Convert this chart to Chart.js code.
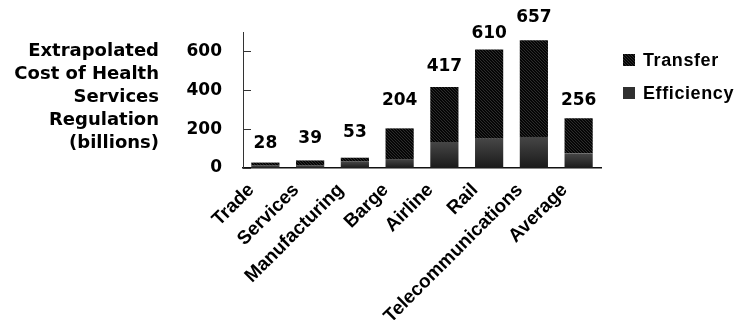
<!DOCTYPE html>
<html>
<head>
<meta charset="utf-8">
<script src="https://cdn.jsdelivr.net/npm/chart.js@4"></script>
<style>
  html, body { margin: 0; padding: 0; background: #fff; }
  #wrap { width: 740px; height: 320px; position: relative; }
</style>
</head>
<body>
<div id="wrap"><canvas id="c" width="740" height="320"></canvas></div>
<script>
// Industries along the x axis
const categories = ['Trade', 'Services', 'Manufacturing', 'Barge', 'Airline', 'Rail', 'Telecommunications', 'Average'];
// Cost components (billions)
const efficiency = [12, 12, 33, 46, 134, 150, 160, 74];
const transfer   = [16, 27, 20, 158, 283, 460, 497, 182];
// Value axis
const yTicks = [0, 200, 400, 600];
const yMax = 700;
const yTitleLines = ['Extrapolated', 'Cost of Health', 'Services', 'Regulation', '(billions)'];
const seriesNames = { transfer: 'Transfer', efficiency: 'Efficiency' };

const NUM_FONT = '"DejaVu Sans", Verdana, sans-serif';
const TXT_FONT = '"Liberation Sans", Arial, sans-serif';

// fine dark diagonal texture for the Transfer segments
function makeHatch() {
  const c = document.createElement('canvas');
  c.width = 3; c.height = 3;
  const g = c.getContext('2d');
  g.fillStyle = '#060606';
  g.fillRect(0, 0, 3, 3);
  g.fillStyle = '#2c2c2c';
  for (let i = 0; i < 3; i++) g.fillRect(i, i, 1, 1);
  return g.createPattern(c, 'repeat');
}
const hatch = makeHatch();

// shaded fill for the Efficiency segments, lighter at the top of each bar
function efficiencyFill(ctx) {
  const chart = ctx.chart;
  if (!chart.chartArea || ctx.type !== 'data') return '#2c2c2c';
  const y = chart.scales.y;
  const top = y.getPixelForValue(efficiency[ctx.dataIndex]);
  const bot = y.getPixelForValue(0);
  if (!isFinite(top) || bot - top < 1) return '#2c2c2c';
  const g = chart.ctx.createLinearGradient(0, top, 0, bot);
  g.addColorStop(0, '#464646');
  g.addColorStop(1, '#1a1a1a');
  return g;
}

// distance between each total label and its bar top
const labelGap = [13, 16, 20, 22, 15, 10, 17, 12];

const overlay = {
  id: 'overlay',
  afterDraw(chart) {
    const ctx = chart.ctx;
    const area = chart.chartArea;
    const x = chart.scales.x, y = chart.scales.y;
    ctx.save();

    // inward tick marks on the value axis
    ctx.strokeStyle = '#333';
    ctx.lineWidth = 1;
    y.ticks.forEach(t => {
      const py = Math.round(y.getPixelForValue(t.value)) + 0.5;
      ctx.beginPath();
      ctx.moveTo(area.left, py);
      ctx.lineTo(area.left + 8, py);
      ctx.stroke();
    });

    // totals above the stacks
    ctx.fillStyle = '#000';
    ctx.font = 'bold 17px ' + NUM_FONT;
    ctx.textAlign = 'center';
    ctx.textBaseline = 'bottom';
    categories.forEach((c, i) => {
      const total = efficiency[i] + transfer[i];
      const px = x.getPixelForValue(i);
      const py = y.getPixelForValue(total);
      ctx.fillText(String(total), px, py - labelGap[i] + 3);
    });

    // value axis title, right aligned, stacked lines
    ctx.font = 'bold 18px ' + NUM_FONT;
    ctx.textAlign = 'right';
    ctx.textBaseline = 'middle';
    yTitleLines.forEach((line, i) => {
      ctx.fillText(line, 159, 51 + i * 23);
    });

    // legend
    const items = [
      { label: seriesNames.transfer, fill: hatch },
      { label: seriesNames.efficiency, fill: '#303030' }
    ];
    ctx.font = 'bold 18px ' + TXT_FONT;
    ctx.letterSpacing = '0.6px';
    ctx.textAlign = 'left';
    items.forEach((it, i) => {
      const cy = 60 + i * 33;
      ctx.fillStyle = it.fill;
      ctx.fillRect(623, cy - 6, 12, 12);
      ctx.fillStyle = '#000';
      ctx.fillText(it.label, 643, cy + 1);
    });
    ctx.restore();
  }
};

new Chart(document.getElementById('c'), {
  type: 'bar',
  data: {
    labels: categories,
    datasets: [
      { label: seriesNames.efficiency, data: efficiency, backgroundColor: efficiencyFill, borderWidth: 0, stack: 's' },
      { label: seriesNames.transfer, data: transfer, backgroundColor: hatch, borderWidth: 0, stack: 's' }
    ]
  },
  options: {
    responsive: false,
    animation: false,
    devicePixelRatio: 1,
    layout: { padding: { left: 0, right: 139, top: 32, bottom: 0 } },
    datasets: { bar: { categoryPercentage: 1, barPercentage: 0.63 } },
    plugins: { legend: { display: false }, tooltip: { enabled: false } },
    scales: {
      x: {
        stacked: true,
        grid: { display: false, drawTicks: false },
        border: { display: true, color: '#111', width: 1.5 },
        ticks: {
          autoSkip: false,
          minRotation: 45,
          maxRotation: 45,
          padding: 11,
          labelOffset: -14,
          color: '#000',
          font: { family: TXT_FONT, size: 19, weight: 'bold' }
        },
        afterFit(scale) { scale.height = 152; }
      },
      y: {
        stacked: true,
        min: 0,
        max: yMax,
        grid: { display: false, drawTicks: false },
        border: { display: true, color: '#333', width: 1 },
        afterBuildTicks(scale) { scale.ticks = yTicks.map(v => ({ value: v })); },
        ticks: {
          padding: 21,
          color: '#000',
          font: { family: NUM_FONT, size: 17, weight: 'bold' }
        },
        afterFit(scale) { scale.width = 243; }
      }
    }
  },
  plugins: [overlay]
});
</script>
</body>
</html>
